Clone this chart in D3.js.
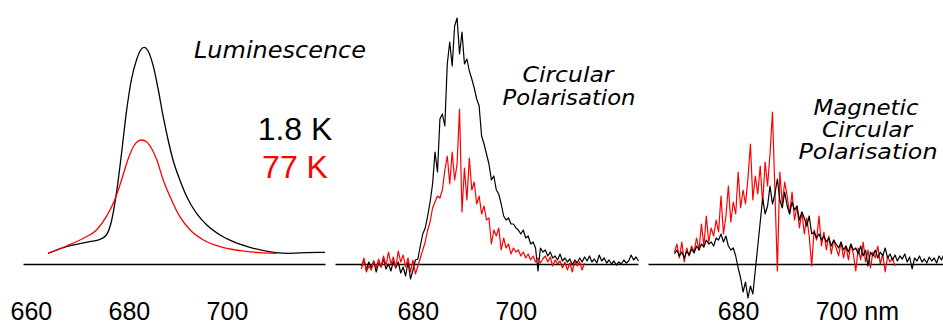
<!DOCTYPE html>
<html>
<head>
<meta charset="utf-8">
<script src="https://cdn.jsdelivr.net/npm/d3@7"></script>
<style>
  html, body { margin: 0; padding: 0; background: #fff; }
  svg { display: block; }
  .tick text { font-family: "Liberation Sans", Arial, Helvetica, sans-serif; }
  .label { font-family: "Liberation Sans", Arial, Helvetica, sans-serif; }
  .label.it { font-family: "DejaVu Sans", "Liberation Sans", Arial, sans-serif; }
</style>
</head>
<body>
<div id="container"></div>
<script>
// luminescence (smooth curves), wavelength in nm, intensity in arbitrary units
const lumNm1_8K = [663.5, 667.3, 672.0, 674.1, 675.4, 676.5, 677.5, 678.5, 679.5, 680.5, 681.6, 682.4, 683.1, 684.0, 685.0, 686.0, 687.0, 688.0, 689.0, 690.4, 691.8, 693.8, 695.9, 698.6, 701.3, 705.4, 709.5, 712.9, 716.3, 720.0];
const lum1_8K = [10.7, 17.3, 22.3, 24.7, 29, 44, 72.3, 110.7, 152.3, 184, 204.7, 214, 216.7, 212.3, 197.3, 174, 147.3, 124, 104, 84, 67.3, 50.7, 39, 29, 22.3, 15.7, 11.7, 10.7, 11.3, 11.7];
const lumNm77K = [663.5, 667.3, 670.7, 673.4, 675.4, 677.1, 678.5, 679.9, 680.9, 681.7, 682.6, 683.6, 684.6, 685.7, 687.0, 688.4, 690.4, 692.5, 695.2, 698.6, 702.7, 706.7, 710.1];
const lum77K = [10.7, 18, 25.7, 34, 47.3, 64, 84, 105.7, 117.3, 122.3, 124, 122.3, 115.7, 104, 84, 67.3, 47.3, 34, 24, 17.3, 13.3, 11.3, 10.7];

// circular polarisation, sampled every 0.5 nm
const cpStep = 0.5;
const cpStart1_8K = 668.5;
const cp1_8K = [-2, 4, -6, 2, -4, 3, -8, 1, -3, 5, -5, 0, -7, 3, -4, 2, -9, -3, -12, 2, -15, -6, 4,
  5, 18, 30, 36, 48, 62, 80, 112, 92, 145, 150, 138, 200, 222, 198, 238, 246, 210, 232, 200, 205, 193, 185, 176, 165, 158,
  128, 120, 110, 100, 84, 88, 74, 70, 60, 48, 44, 46, 40, 40, 36, 34, 30, 34, 26, 28, 20, 22, 16, -7, 16, 12, 14, 8, 12, 6,
  8, 4, 10, 3, 6, 2, 5, -1, 4, 1, 6, 2, 7, 3, 8, 2, 5, 1, 9, 3, 6, 1, 4, 0, 3, -1, 2, 0, 4, 1, 3, 9, 4, 7, 3];
const cpStart77K = 668.5;
const cp77K = [-5, 6, -8, -2, -6, 3, -4, 5, -3, 8, -2, 12, 0, 7, -4, 13, 2, 9, -3, 6, -8, 4, -10,
  -2, 6, 14, 22, 34, 42, 56, 62, 68, 66, 74, 94, 108, 80, 112, 84, 100, 155, 52, 96, 64, 106, 74, 82, 60, 68, 50, 58,
  44, 46, 20, 34, 28, 36, 14, 26, 16, 20, 10, 16, 12, 14, 8, 12, 6, 10, 4, 8, 2, 6, 1, 5, 8, 2, 7, -2, 4, 0, 3, -4,
  2, -6, 1, -8, 3, -2, 2, -6, 1];

// magnetic circular polarisation, sampled every 0.5 nm
const mcpStart1_8K = 667;
const mcp1_8K = [10, 14, 8, 12, 6, 13, 9, 15, 11, 18, 14, 20, 17, 24, 20, 22, 18, 26, 24, 30, 22, 28, 18, 14, 16, 8,
  -4, -14, -28, -18, -34, -22, -30, -6, 18, 42, 66, 50, 58, 78, 60, 70, 85, 64, 56, 72, 58, 50, 62, 54, 58, 44, 52, 46,
  38, 48, 30, 32, 26, 30, 24, 28, 22, 26, 18, 24, 20, 16, 22, 14, 18, 12, 20, 14, 16, 10, 18, 8, 14, -2, 12, 8, 14, 6,
  12, 8, 16, 6, 10, 4, 9, 3, 8, 5, 10, 2, 7, -5, 6, 3, 8, 2, 5, 1, 7, 3, 6, 1, 8, 4, 10];
const mcpStart77K = 667;
const mcp77K = [12, 20, 6, 22, 2, 16, 8, 18, 12, 26, 14, 40, 18, 48, 22, 36, 28, 44, 32, 68, 30, 48, 78, 42, 62, 50,
  92, 56, 74, 60, 86, 120, 64, 88, 70, 98, 60, 102, 78, 110, 152, 72, -7, 92, 60, 82, 68, 50, 72, 44, 58, 36, 52, 30,
  46, 28, -2, 34, 24, 48, 18, 32, 14, 28, 10, 24, 16, 8, 22, 6, 18, 4, 20, 10, -7, 16, 4, 22, 2, 14, -4, 12, 6, 18, 0,
  10, -8, 8, 2, 6, -2];

const panels = [
  { domain: [658.4, 720], range: [23, 325], ticks: [660, 680, 700] },
  { domain: [663.1, 724.9], range: [335, 638], ticks: [680, 700] },
  { domain: [661.6, 721.8], range: [648, 943], ticks: [680, 700] }
];

const w = 943;
const h = 325;

const svg = d3.select('#container').append('svg')
  .attr('width', w)
  .attr('height', h);

const yScale = d3.scaleLinear().domain([-60, 250]).range([324, 14]);

const toPoints = (nms, vals) => vals.map((v, i) => ({ nm: nms[i], v: v }));
const sampled = (start, vals) => vals.map((v, i) => ({ nm: start + i * cpStep, v: v }));

const xScales = panels.map((p) => d3.scaleLinear().domain(p.domain).range(p.range));

// axes: just the baseline and the tick labels
panels.forEach((p, i) => {
  const axis = d3.axisBottom(xScales[i])
    .tickValues(p.ticks)
    .tickSize(0)
    .tickPadding(38)
    .tickFormat(d3.format('d'));
  const g = svg.append('g')
    .attr('transform', 'translate(0,' + yScale(0) + ')')
    .call(axis);
  g.select('.domain').attr('stroke', '#000').attr('stroke-width', 1.6);
  g.selectAll('.tick text')
    .attr('font-size', 25)
    .attr('dy', '0.7em')
    .attr('fill', '#000');
  if (i === 2) {
    g.selectAll('.tick text')
      .filter((d) => d === 700)
      .attr('text-anchor', 'start')
      .attr('x', -21)
      .text('700 nm');
  }
});

const smoothLine = (xs) => d3.line()
  .x((d) => xs(d.nm))
  .y((d) => yScale(d.v))
  .curve(d3.curveMonotoneX);

const rawLine = (xs) => d3.line()
  .x((d) => xs(d.nm))
  .y((d) => yScale(d.v));

const draw = (data, gen, color, width) => {
  svg.append('path')
    .datum(data)
    .attr('d', gen)
    .attr('fill', 'none')
    .attr('stroke', color)
    .attr('stroke-width', width)
    .attr('stroke-linejoin', 'round');
};

// panel 1
draw(toPoints(lumNm1_8K, lum1_8K), smoothLine(xScales[0]), '#000', 1.3);
draw(toPoints(lumNm77K, lum77K), smoothLine(xScales[0]), '#ff0000', 1.3);

// panel 2
draw(sampled(cpStart1_8K, cp1_8K), rawLine(xScales[1]), '#000', 1.2);
draw(sampled(cpStart77K, cp77K), rawLine(xScales[1]), '#ff0000', 1.2);

// panel 3
draw(sampled(mcpStart77K, mcp77K), rawLine(xScales[2]), '#ff0000', 1.2);
draw(sampled(mcpStart1_8K, mcp1_8K), rawLine(xScales[2]), '#000', 1.2);

// labels
const labels = [
  { t: 'Luminescence', x: 280, y: 58, size: 23, italic: true, color: '#000', len: 172 },
  { t: '1.8 K', x: 295, y: 140, size: 32, italic: false, color: '#000' },
  { t: '77 K', x: 295, y: 178, size: 32, italic: false, color: '#ff0000' },
  { t: 'Circular', x: 568, y: 82, size: 22, italic: true, color: '#000', len: 91 },
  { t: 'Polarisation', x: 569, y: 105, size: 22, italic: true, color: '#000', len: 133 },
  { t: 'Magnetic', x: 866, y: 115, size: 21, italic: true, color: '#000', len: 105 },
  { t: 'Circular', x: 867, y: 137, size: 21, italic: true, color: '#000', len: 90 },
  { t: 'Polarisation', x: 868, y: 159, size: 21, italic: true, color: '#000', len: 139 }
];

labels.forEach((l) => {
  const t = svg.append('text')
    .attr('class', l.italic ? 'label it' : 'label')
    .attr('x', l.x)
    .attr('y', l.y)
    .attr('text-anchor', 'middle')
    .attr('font-size', l.size)
    .attr('font-style', l.italic ? 'italic' : 'normal')
    .attr('fill', l.color)
    .text(l.t);
  if (l.len) t.attr('textLength', l.len).attr('lengthAdjust', 'spacingAndGlyphs');
});
</script>
</body>
</html>
